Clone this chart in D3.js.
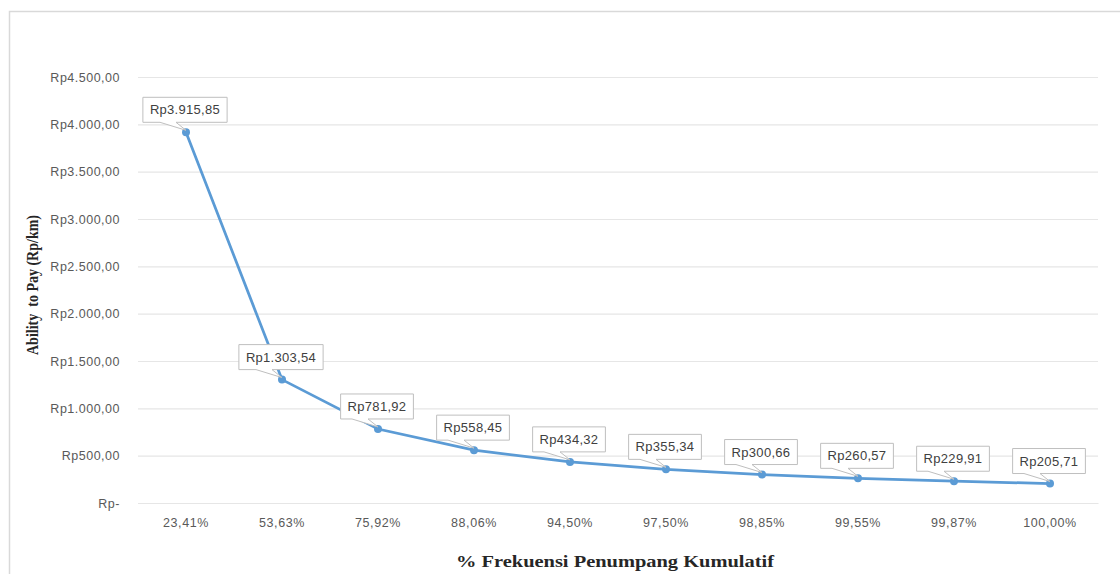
<!DOCTYPE html>
<html><head><meta charset="utf-8">
<script src="https://cdn.jsdelivr.net/npm/d3@7"></script>
<style>html,body{margin:0;padding:0;background:#fff;}svg{display:block;}</style>
</head><body>
<svg id="c" width="1120" height="574"></svg>
<script>
const categories = ["23,41%","53,63%","75,92%","88,06%","94,50%","97,50%","98,85%","99,55%","99,87%","100,00%"];
const values = [3915.85,1303.54,781.92,558.45,434.32,355.34,300.66,260.57,229.91,205.71];
const valueLabels = ["Rp3.915,85","Rp1.303,54","Rp781,92","Rp558,45","Rp434,32","Rp355,34","Rp300,66","Rp260,57","Rp229,91","Rp205,71"];
const yTicks = [0,500,1000,1500,2000,2500,3000,3500,4000,4500];
const yTickLabels = ["Rp-","Rp500,00","Rp1.000,00","Rp1.500,00","Rp2.000,00","Rp2.500,00","Rp3.000,00","Rp3.500,00","Rp4.000,00","Rp4.500,00"];
const xTitle = "% Frekuensi Penumpang Kumulatif";
const yTitle = "Ability  to Pay (Rp/km)";

const svg = d3.select("#c");
svg.append("rect").attr("x",9.5).attr("y",11.5).attr("width",1200).attr("height",700)
  .attr("fill","#fff").attr("stroke","#d9d9d9").attr("stroke-width",1.5);

const L=138,R=1098,T=77,B=503;
const x = d3.scaleBand().domain(categories).range([L,R]);
const y = d3.scaleLinear().domain([0,4500]).range([B,T]);
const sans = "'Liberation Sans', Arial, sans-serif";

const gy = svg.append("g").attr("transform",`translate(${L},0)`)
  .call(d3.axisLeft(y).tickValues(yTicks).tickSize(-(R-L)).tickFormat((d,i)=>yTickLabels[i]).tickPadding(18));
gy.select(".domain").remove();
gy.selectAll(".tick line").attr("stroke","#e6e6e6").attr("stroke-width",1.2);
gy.selectAll(".tick text").attr("fill","#595959").attr("font-family",sans).attr("font-size","12.5px").attr("letter-spacing","0.5px");

const gx = svg.append("g").attr("transform",`translate(0,${B})`)
  .call(d3.axisBottom(x).tickSize(0).tickPadding(15));
gx.select(".domain").attr("stroke","#e6e6e6").attr("stroke-width",1.2);
gx.selectAll(".tick text").attr("fill","#595959").attr("font-family",sans).attr("font-size","12.5px").attr("letter-spacing","0.6px");

svg.append("text").attr("x",615).attr("y",567).attr("text-anchor","middle")
  .attr("font-family","'Liberation Serif', 'Times New Roman', serif").attr("font-weight","bold")
  .attr("font-size","16px").attr("fill","#262626")
  .attr("textLength",318).attr("lengthAdjust","spacingAndGlyphs").text(xTitle);
svg.append("text").attr("transform","translate(38,285) rotate(-90)").attr("text-anchor","middle")
  .attr("font-family","'Liberation Serif', 'Times New Roman', serif").attr("font-weight","bold")
  .attr("font-size","16.5px").attr("fill","#262626").style("white-space","pre")
  .attr("textLength",140).attr("lengthAdjust","spacingAndGlyphs").text(yTitle);

const cx = d => x(d) + x.bandwidth()/2;
const pts = categories.map((c,i)=>({c, v:values[i], l:valueLabels[i]}));

const line = d3.line().x(d=>cx(d.c)).y(d=>y(d.v)).curve(d3.curveLinear);
svg.append("path").datum(pts).attr("d",line).attr("fill","none").attr("stroke","#5b9bd5").attr("stroke-width",2.75);
svg.append("g").selectAll("circle").data(pts).join("circle")
  .attr("cx",d=>cx(d.c)).attr("cy",d=>y(d.v)).attr("r",4).attr("fill","#5b9bd5");

const lab = svg.append("g");
pts.forEach(p=>{
  const px = cx(p.c), py = y(p.v);
  const g = lab.append("g");
  const pth = g.append("path");
  const t = g.append("text").attr("font-family",sans).attr("letter-spacing","0.3px")
    .attr("font-size","13px").attr("fill","#404040").attr("text-anchor","middle").text(p.l);
  const w = t.node().getComputedTextLength() + 14, h = 25;
  const bx = px - w/2 - 1, bby = py - 10, bty = bby - h;
  const path = `M${bx},${bty} H${bx+w} V${bby} H${px-10} L${px},${py-2} L${px-26},${bby} H${bx} Z`;
  pth.attr("d",path).attr("fill","#fff").attr("stroke","#bfbfbf").attr("stroke-width",1);
  t.attr("x",bx+w/2).attr("y",bty+h/2+4.5);
});
</script>
</body></html>
